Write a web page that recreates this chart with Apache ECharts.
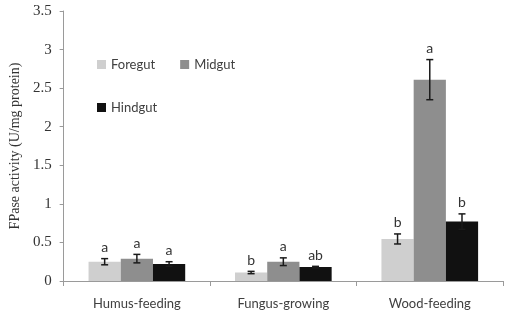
<!DOCTYPE html>
<html>
<head>
<meta charset="utf-8">
<script src="https://cdn.jsdelivr.net/npm/echarts@6/dist/echarts.min.js"></script>
<style>
  html, body { margin: 0; padding: 0; background: #fff; }
</style>
</head>
<body>
<div id="chart" style="width:510px;height:321px"></div>
<script>
const categories = ['Humus-feeding', 'Fungus-growing', 'Wood-feeding']
const guts = ['Foregut', 'Midgut', 'Hindgut']
const foregut = [0.25, 0.11, 0.545]
const midgut = [0.29, 0.25, 2.61]
const hindgut = [0.22, 0.18, 0.77]
const foregutErr = [0.04, 0.015, 0.065]
const midgutErr = [0.055, 0.05, 0.26]
const hindgutErr = [0.03, 0.01, 0.1]
const foregutLetters = ['a', 'b', 'b']
const midgutLetters = ['a', 'a', 'a']
const hindgutLetters = ['a', 'ab', 'b']
const yTicks = [0, 0.5, 1, 1.5, 2, 2.5, 3, 3.5]

const values = [foregut, midgut, hindgut]
const errs = [foregutErr, midgutErr, hindgutErr]
const letters = [foregutLetters, midgutLetters, hindgutLetters]
const colors = ['#cfcfcf', '#8e8e8e', '#111111']
const groupShare = 0.66

function errorSeries(k) {
  return {
    type: 'custom',
    z: 5,
    data: values[k].map((v, i) => [i, v, errs[k][i], letters[k][i]]),
    encode: { x: 0, y: 1 },
    renderItem(params, api) {
      const i = api.value(0)
      const v = api.value(1)
      const e = api.value(2)
      const bw = api.size([1, 0])[0] * groupShare / 3
      const x = api.coord([i, v])[0] + (k - 1) * bw
      const top = api.coord([i, v + e])[1]
      const bot = api.coord([i, v - e])[1]
      const cap = 3.5
      const ls = { stroke: '#1a1a1a', lineWidth: 1.5 }
      return {
        type: 'group',
        children: [
          { type: 'line', shape: { x1: x, y1: top, x2: x, y2: bot }, style: ls },
          { type: 'line', shape: { x1: x - cap, y1: top, x2: x + cap, y2: top }, style: ls },
          { type: 'line', shape: { x1: x - cap, y1: bot, x2: x + cap, y2: bot }, style: ls },
          {
            type: 'text',
            style: {
              text: letters[k][i], x: x, y: top - 4,
              align: 'center', verticalAlign: 'bottom',
              font: '14px Lato', fill: '#333'
            }
          }
        ]
      }
    }
  }
}

const chart = echarts.init(document.getElementById('chart'))
const legendText = { color: '#404040', fontSize: 13, fontFamily: 'Lato' }
chart.setOption({
  animation: false,
  backgroundColor: '#fff',
  legend: [
    {
      data: ['Foregut', 'Midgut'], left: 92, top: 53, itemWidth: 9, itemHeight: 9,
      itemGap: 25, textStyle: legendText, icon: 'rect'
    },
    {
      data: ['Hindgut'], left: 92, top: 96, itemWidth: 9, itemHeight: 9,
      textStyle: legendText, icon: 'rect'
    }
  ],
  grid: { left: 63, right: 7, top: 11, bottom: 40 },
  xAxis: {
    type: 'category',
    data: categories,
    axisLine: { lineStyle: { color: '#9a9a9a' } },
    axisTick: { show: true, length: 5, lineStyle: { color: '#9a9a9a' } },
    axisLabel: { color: '#404040', fontSize: 13, fontFamily: 'Lato', margin: 16 }
  },
  yAxis: {
    type: 'value',
    min: 0,
    max: 3.5,
    interval: 0.5,
    name: 'FPase activity (U/mg protein)',
    nameLocation: 'middle',
    nameGap: 41,
    nameTextStyle: { fontFamily: 'Liberation Serif', fontSize: 14, color: '#333' },
    splitLine: { show: false },
    axisLine: { show: true, lineStyle: { color: '#9a9a9a' } },
    axisTick: { show: true, length: 4, lineStyle: { color: '#9a9a9a' } },
    axisLabel: {
      fontFamily: 'Liberation Serif', fontSize: 15, color: '#333', margin: 12,
      formatter: v => (yTicks.includes(v) ? String(v) : '')
    }
  },
  series: guts.map((g, k) => ({
    name: g,
    type: 'bar',
    data: values[k],
    itemStyle: { color: colors[k] },
    barGap: '0%',
    barCategoryGap: '34%'
  })).concat([0, 1, 2].map(errorSeries))
})
</script>
</body>
</html>
